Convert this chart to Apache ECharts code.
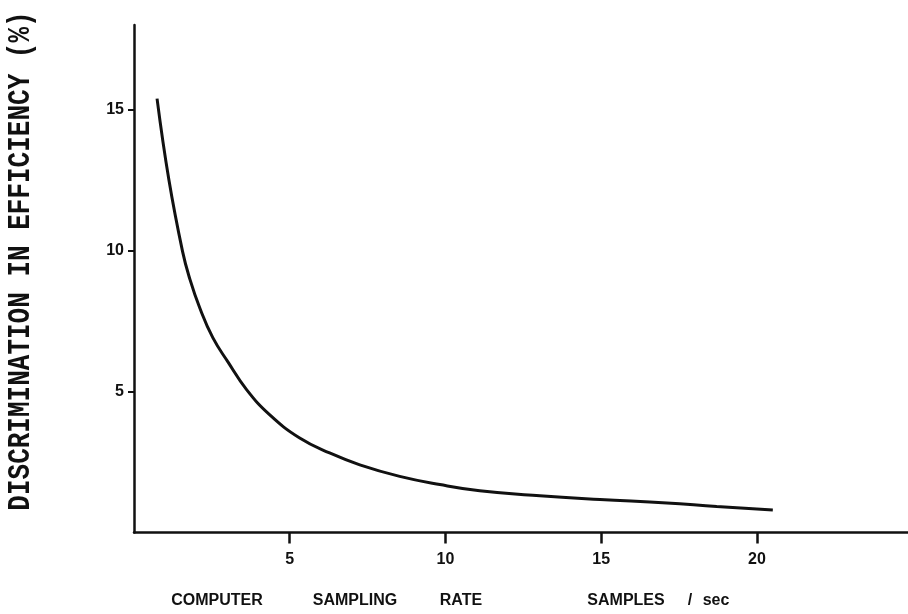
<!DOCTYPE html>
<html>
<head>
<meta charset="utf-8">
<script src="https://cdn.jsdelivr.net/npm/echarts@6/dist/echarts.min.js"></script>
<style>
html,body{margin:0;padding:0;background:#fff;}
#chart{width:908px;height:614px;}
</style>
</head>
<body>
<div id="chart"></div>
<script>
// Data
var samplingRate = [0.74, 1.12, 1.56, 1.79, 2.11, 2.53, 3.01, 3.62, 4.36, 5.32, 6.28, 7.25, 8.53, 9.82, 11.1, 13.03, 14.96, 17.11, 18.71, 20.51];
var discrimination = [15.39, 12.51, 9.96, 9.00, 7.97, 6.91, 6.06, 5.06, 4.17, 3.35, 2.82, 2.40, 1.99, 1.70, 1.48, 1.30, 1.17, 1.05, 0.92, 0.80];
var xTicks = [5, 10, 15, 20];
var yTicks = [5, 10, 15];
var yTitle = 'DISCRIMINATION IN EFFICIENCY (%)';
var xTitleWords = ['COMPUTER', 'SAMPLING', 'RATE', 'SAMPLES', '/', 'sec'];

var points = samplingRate.map(function (x, i) { return [x, discrimination[i]]; });

var chart = echarts.init(document.getElementById('chart'), null, {renderer: 'canvas'});
var ink = '#111';
var tickFont = {color: ink, fontFamily: 'Liberation Sans, Arial, sans-serif', fontWeight: 'bold', fontSize: 16};
var xWordPos = [217, 355, 461, 626, 690, 716];

var graphics = [{
  type: 'text',
  x: 21.5, y: 261,
  rotation: Math.PI / 2,
  scaleY: 1.2,
  style: {
    text: yTitle,
    fontFamily: 'Liberation Mono, Courier New, monospace',
    fontWeight: 'bold',
    fontSize: 26,
    fill: ink,
    align: 'center',
    verticalAlign: 'middle'
  }
}];
xTitleWords.forEach(function (w, i) {
  graphics.push({
    type: 'text',
    x: xWordPos[i], y: 601,
    style: {
      text: w,
      fontFamily: 'Liberation Sans, Arial, sans-serif',
      fontWeight: 'bold',
      fontSize: 16,
      fill: ink,
      align: 'center',
      verticalAlign: 'middle'
    }
  });
});

chart.setOption({
  backgroundColor: '#fff',
  animation: false,
  grid: {left: 134, right: 0, top: 25, bottom: 81.5, containLabel: false},
  xAxis: {
    type: 'value',
    min: 0, max: 24.85, interval: 5,
    axisLine: {show: true, lineStyle: {color: ink, width: 2.5}},
    axisTick: {show: true, inside: false, length: 11, lineStyle: {color: ink, width: 2.5}, customValues: xTicks},
    axisLabel: Object.assign({margin: 19, customValues: xTicks}, tickFont),
    splitLine: {show: false}
  },
  yAxis: {
    type: 'value',
    min: 0, max: 18, interval: 5,
    axisLine: {show: true, lineStyle: {color: ink, width: 2.5}},
    axisTick: {show: true, inside: false, length: 6, lineStyle: {color: ink, width: 2}, customValues: yTicks},
    axisLabel: Object.assign({margin: 10, customValues: yTicks}, tickFont),
    splitLine: {show: false}
  },
  graphic: graphics,
  series: [{
    type: 'line',
    data: points,
    smooth: 0.45,
    showSymbol: false,
    lineStyle: {color: ink, width: 3}
  }]
});
</script>
</body>
</html>
